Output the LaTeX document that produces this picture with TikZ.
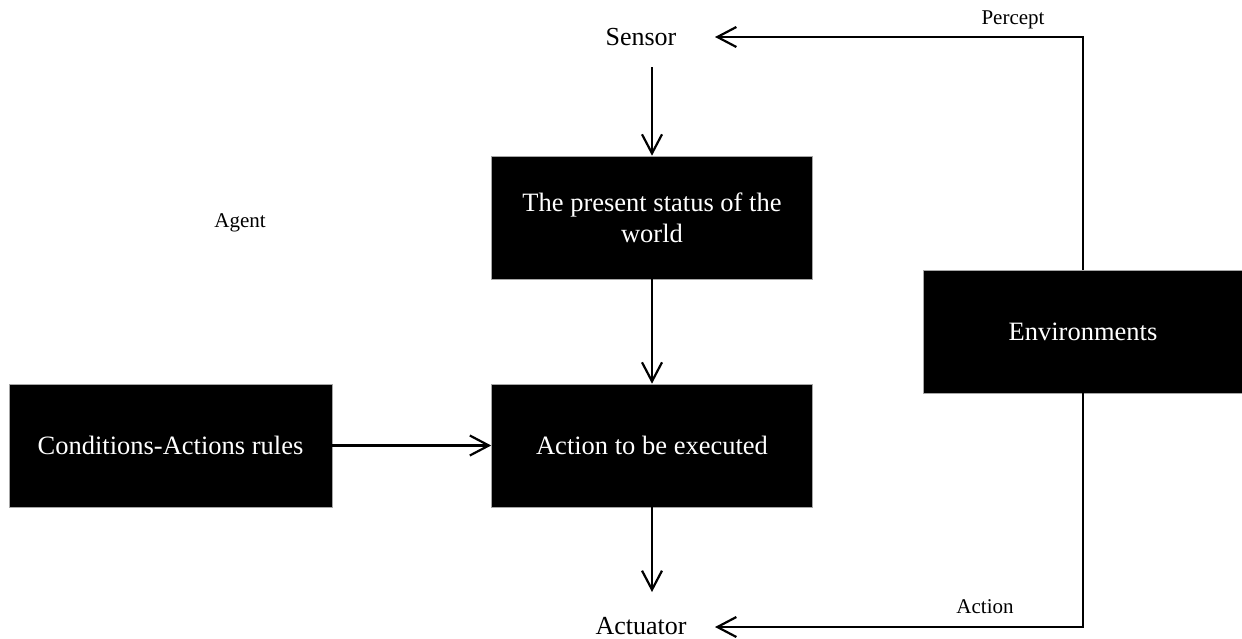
\documentclass[tikz,border=0pt]{standalone}
\usepackage{fontspec}
\setmainfont{Liberation Serif}
\usetikzlibrary{arrows.meta}

\begin{document}
\begin{tikzpicture}[x=1pt,y=1pt,yscale=-1,xscale=1,
    blockbox/.style={fill=black,draw=gray!70,line width=0.6pt,text=white,inner sep=0pt,
        minimum width=321pt,minimum height=123pt,font=\fontsize{26.5}{31}\selectfont,align=center},
    biglabel/.style={inner sep=0pt,font=\fontsize{26}{30}\selectfont},
    smalllabel/.style={inner sep=0pt,font=\fontsize{21}{25}\selectfont},
    flow/.style={line width=2.2pt,-{Straight Barb[length=19pt,width=20pt,line width=2.2pt]}}]
\useasboundingbox (0,0) rectangle (1242,638);
% boxes
\node (status) at (652,217.5) [blockbox] {The present status of the\\world};
\node (action) at (652,445.5) [blockbox] {Action to be executed};
\node (rules) at (170.5,445.5) [blockbox,minimum width=323pt] {Conditions-Actions rules};
\node (env) at (1083,331.5) [blockbox,minimum width=320pt] {Environments};
% labels
\node (sensor) at (641,37) [biglabel] {Sensor};
\node (actuator) at (641,626) [biglabel] {Actuator};
\node (agent) at (240,223) [smalllabel] {Agent};
\node (percept) at (1013,20) [smalllabel] {Percept};
\node (act) at (985,607) [smalllabel] {Action};
% free ends
\coordinate (sensout) at (652,67);
\coordinate (sensin) at (715,37);
\coordinate (actin) at (652,592);
\coordinate (actuin) at (715,627);
% connectors
\draw[flow] (sensout) -- (status.north);
\draw[flow] (status.south) -- (action.north);
\draw[flow] (rules.east) -- (action.west);
\draw[flow] (action.south) -- (actin);
\draw[flow] (env.north) |- (sensin);
\draw[flow] (env.south) |- (actuin);
\end{tikzpicture}
\end{document}
